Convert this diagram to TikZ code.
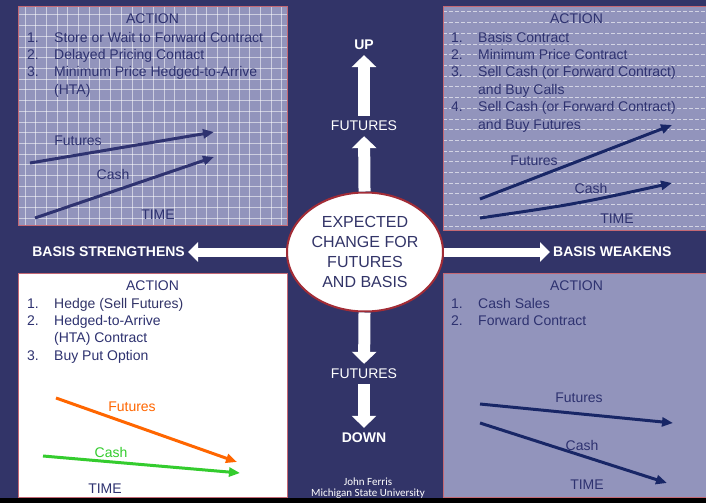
\documentclass[tikz,border=0pt]{standalone}
\usepackage{fontspec}
\setmainfont{Liberation Sans}
\newfontfamily\creditfont{Carlito}
\usetikzlibrary{arrows.meta,shapes.geometric,positioning}

\definecolor{slide}{RGB}{50,52,104}
\definecolor{panel}{RGB}{146,148,188}
\definecolor{panelrim}{RGB}{196,104,116}
\definecolor{inkblue}{RGB}{46,50,112}
\definecolor{trendblue}{RGB}{24,38,102}
\definecolor{ovalred}{RGB}{162,44,54}
\definecolor{futorange}{RGB}{255,102,0}
\definecolor{cashgreen}{RGB}{52,204,46}

\begin{document}
\begin{tikzpicture}[x=1pt, y=-1pt,
    core/.style={ellipse, draw=ovalred, line width=2pt, fill=white, inner sep=0pt,
      minimum width=156pt, minimum height=119pt, align=center, text=slide,
      font=\fontsize{16}{20}\selectfont},
    colword/.style={text=white, inner sep=5pt, font=\fontsize{14}{17}\selectfont},
    sideword/.style={text=white, inner sep=3pt, font=\fontsize{14}{17}\selectfont\bfseries},
    bigarrow/.style={white, line width=12pt, -{Triangle[length=12pt,width=24pt]}},
    sidearrow/.style={white, line width=9pt, -{Triangle[length=10pt,width=19pt]}},
    acttitle/.style={text=inkblue, inner sep=0pt, font=\fontsize{14}{17}\selectfont},
    actlist/.style={text=inkblue, inner sep=0pt, anchor=base west,
      font=\fontsize{14}{17.4}\selectfont},
    plotlbl/.style={inner sep=0pt, font=\fontsize{14}{17}\selectfont},
    trend/.style={line width=3pt, -{Triangle[length=11pt,width=9pt]}},
    gridline/.style={white, opacity=0.55, line width=1pt},
    dashline/.style={white, opacity=0.6, line width=1pt, dash pattern=on 4pt off 2pt}]

  % backdrop
  \fill[slide] (0,0) rectangle (706,503);
  \useasboundingbox (0,0) rectangle (706,503);
  \fill[black] (0,498) rectangle (706,503);

  % the four panels
  \fill[panel] (18,6) rectangle (287,225);
  \foreach \gx in {0,...,24}
    \draw[gridline] (25+\gx*10.7,6) -- (25+\gx*10.7,225);
  \foreach \gy in {0,...,19}
    \draw[gridline] (18,15+\gy*10.7) -- (287,15+\gy*10.7);
  \draw[panelrim] (18,6) rectangle (287,225);

  \fill[panel] (443,6) rectangle (706,230);
  \foreach \gy in {0,...,20}
    \draw[dashline] (443,12+\gy*10.7) -- (706,12+\gy*10.7);
  \draw[panelrim] (443,6) rectangle (706,230);

  \filldraw[fill=white, draw=panelrim] (18,273) rectangle (287,497);
  \filldraw[fill=panel, draw=panelrim] (443,273) rectangle (706,497);

  % centre and its arrows
  \node[core] (core) at (365,252) {EXPECTED\\CHANGE FOR\\FUTURES\\AND BASIS};
  \node[colword] (futup) at (364,126) {FUTURES};
  \node[colword, font=\fontsize{14}{17}\selectfont\bfseries] (up) at (364,45) {UP};
  \node[colword] (futdown) at (364,374) {FUTURES};
  \node[colword, font=\fontsize{14}{17}\selectfont\bfseries] (down) at (364,438) {DOWN};
  \node[sideword, anchor=east] (strong) at (188,252) {BASIS STRENGTHENS};
  \node[sideword, anchor=west] (weak) at (550,252) {BASIS WEAKENS};

  \draw[bigarrow] (core) -- (futup);
  \draw[bigarrow] (futup) -- (up);
  \draw[bigarrow] (core) -- (futdown);
  \draw[bigarrow] (futdown) -- (down);
  \draw[sidearrow] (core) -- (strong);
  \draw[sidearrow] (core) -- (weak);

  % upper left: futures up, basis strengthens
  \node[acttitle] (actUS) at (152.5,19) {ACTION};
  \node[actlist] (listUS) at (27,42) {\begin{tabular}[t]{@{}p{27pt}@{}l@{}}
    1. & Store or Wait to Forward Contract\\
    2. & Delayed Pricing Contact\\
    3. & Minimum Price Hedged-to-Arrive\\
       & (HTA)
  \end{tabular}};
  \draw[trend, inkblue] (30,163) -- (214,132);
  \draw[trend, inkblue] (35,218) -- (214,157);
  \node[plotlbl, text=inkblue] (futUS) at (78,141) {Futures};
  \node[plotlbl, text=inkblue] (cashUS) at (113,174) {Cash};
  \node[plotlbl, text=inkblue] (timeUS) at (158,215) {TIME};

  % upper right: futures up, basis weakens
  \node[acttitle] (actUW) at (576.5,19) {ACTION};
  \node[actlist] (listUW) at (451,42) {\begin{tabular}[t]{@{}p{27pt}@{}l@{}}
    1. & Basis Contract\\
    2. & Minimum Price Contract\\
    3. & Sell Cash (or Forward Contract)\\
       & and Buy Calls\\
    4. & Sell Cash (or Forward Contract)\\
       & and Buy Futures
  \end{tabular}};
  \draw[trend, trendblue] (480,199) -- (672,125);
  \draw[trend, trendblue] (480,218) .. controls (576,204) .. (672,183);
  \node[plotlbl, text=inkblue] (futUW) at (534,161) {Futures};
  \node[plotlbl, text=inkblue] (cashUW) at (591,188) {Cash};
  \node[plotlbl, text=inkblue] (timeUW) at (617,219) {TIME};

  % lower left: futures down, basis strengthens
  \node[acttitle] (actDS) at (152.5,286) {ACTION};
  \node[actlist] (listDS) at (27,308) {\begin{tabular}[t]{@{}p{27pt}@{}l@{}}
    1. & \textcolor{slide}{Hedge (Sell Futures)}\\
    2. & Hedged-to-Arrive\\
       & (HTA) Contract\\
    3. & Buy Put Option
  \end{tabular}};
  \draw[trend, futorange] (56,398) -- (237,462);
  \draw[trend, cashgreen] (43,456) -- (240,473);
  \node[plotlbl, text=futorange] (futDS) at (132,407) {Futures};
  \node[plotlbl, text=cashgreen] (cashDS) at (111,452) {Cash};
  \node[plotlbl, text=inkblue] (timeDS) at (105,489) {TIME};

  % lower right: futures down, basis weakens
  \node[acttitle] (actDW) at (576.5,286) {ACTION};
  \node[actlist] (listDW) at (451,308) {\begin{tabular}[t]{@{}p{27pt}@{}l@{}}
    1. & Cash Sales\\
    2. & Forward Contract
  \end{tabular}};
  \draw[trend, trendblue] (480,404) -- (673,423);
  \draw[trend, trendblue] (480,423) -- (667,483);
  \node[plotlbl, text=inkblue] (futDW) at (579,398) {Futures};
  \node[plotlbl, text=inkblue] (cashDW) at (582,445) {Cash};
  \node[plotlbl, text=inkblue] (timeDW) at (587,485) {TIME};

  % credit line
  \node[text=white, align=center, inner sep=0pt,
    font=\creditfont\fontsize{11}{11.5}\selectfont] (credit) at (368,488)
    {John Ferris\\Michigan State University};
\end{tikzpicture}
\end{document}
